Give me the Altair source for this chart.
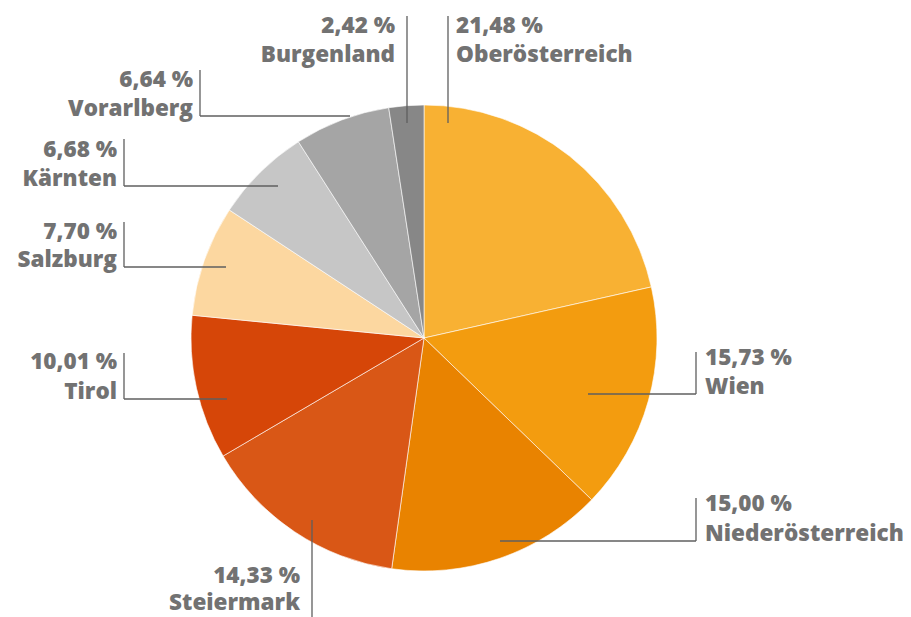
import altair as alt
import pandas as pd

# ---- data ----
regions = ["Oberösterreich", "Wien", "Niederösterreich", "Steiermark", "Tirol",
           "Salzburg", "Kärnten", "Vorarlberg", "Burgenland"]
shares = [21.48, 15.73, 15.00, 14.33, 10.01, 7.70, 6.68, 6.64, 2.42]
colors = ["#F8B133", "#F39C0F", "#E98300", "#D95716", "#D64608",
          "#FCD7A0", "#C6C6C6", "#A5A5A5", "#878787"]

# ---- layout (chart pixel coordinates, page - 8px margin) ----
W, H = 895, 609
CX, CY, R = 416, 330, 233
# region: (align, text x, baseline 1, baseline 2, vline x, vline top, vline bottom, hline end x or None)
layout = {
    "Oberösterreich":   ("left", 448, 25, 54, 440, 8, 115, None),
    "Burgenland":       ("right", 387, 25, 54, 399, 8, 115, None),
    "Vorarlberg":       ("right", 185, 79, 108, 192, 62, 108, 342),
    "Kärnten":          ("right", 109, 149, 178, 116, 131, 178, 270),
    "Salzburg":         ("right", 109, 231, 259, 116, 214, 259, 218),
    "Tirol":            ("right", 109, 361, 391, 116, 345, 391, 219),
    "Steiermark":       ("right", 292, 575, 602, 304, 512, 612, None),
    "Wien":             ("left", 697, 357, 386, 688, 344, 386, 580),
    "Niederösterreich": ("left", 697, 503, 533, 688, 490, 533, 492),
}

df = pd.DataFrame({"region": regions, "share": shares, "idx": range(len(regions))})

text_rows, seg_rows = [], []
for reg, val in zip(regions, shares):
    al, tx, b1, b2, vx, vt, vb, hx = layout[reg]
    pct = f"{val:.2f}".replace(".", ",") + " %"
    text_rows.append({"align": al, "x": tx, "y": b1, "t": pct})
    text_rows.append({"align": al, "x": tx, "y": b2, "t": reg})
    seg_rows.append({"x": vx, "x2": vx, "y": vt, "y2": vb})
    if hx is not None:
        seg_rows.append({"x": vx, "x2": hx, "y": vb, "y2": vb})
tdf = pd.DataFrame(text_rows)
sdf = pd.DataFrame(seg_rows)

xs = alt.Scale(domain=[0, W], range=[0, W])
ys = alt.Scale(domain=[0, H], range=[0, H])

pie = alt.Chart(df).mark_arc(outerRadius=R, stroke="#ffffff", strokeWidth=0.6).encode(
    theta=alt.Theta("share:Q", stack=True),
    color=alt.Color("region:N", scale=alt.Scale(domain=regions, range=colors), legend=None),
    order=alt.Order("idx:Q"),
    x=alt.value(CX),
    y=alt.value(CY),
)

segs = alt.Chart(sdf).mark_rule(color="#5f5f5f", strokeWidth=1.3).encode(
    x=alt.X("x:Q", scale=xs, axis=None),
    x2="x2:Q",
    y=alt.Y("y:Q", scale=ys, axis=None),
    y2="y2:Q",
)

def text_layer(al):
    return alt.Chart(tdf[tdf["align"] == al]).mark_text(
        align=al, baseline="alphabetic", font="Open Sans", fontWeight=800,
        fontSize=22.5, color="#727272",
    ).encode(
        x=alt.X("x:Q", scale=xs, axis=None),
        y=alt.Y("y:Q", scale=ys, axis=None),
        text="t:N",
    )

chart = alt.layer(pie, segs, text_layer("left"), text_layer("right")).properties(
    width=W, height=H, autosize=alt.AutoSizeParams(type="none"), padding=0,
).configure_view(stroke=None)

chart.save("out.html", embed_options={"renderer": "svg", "actions": False})
